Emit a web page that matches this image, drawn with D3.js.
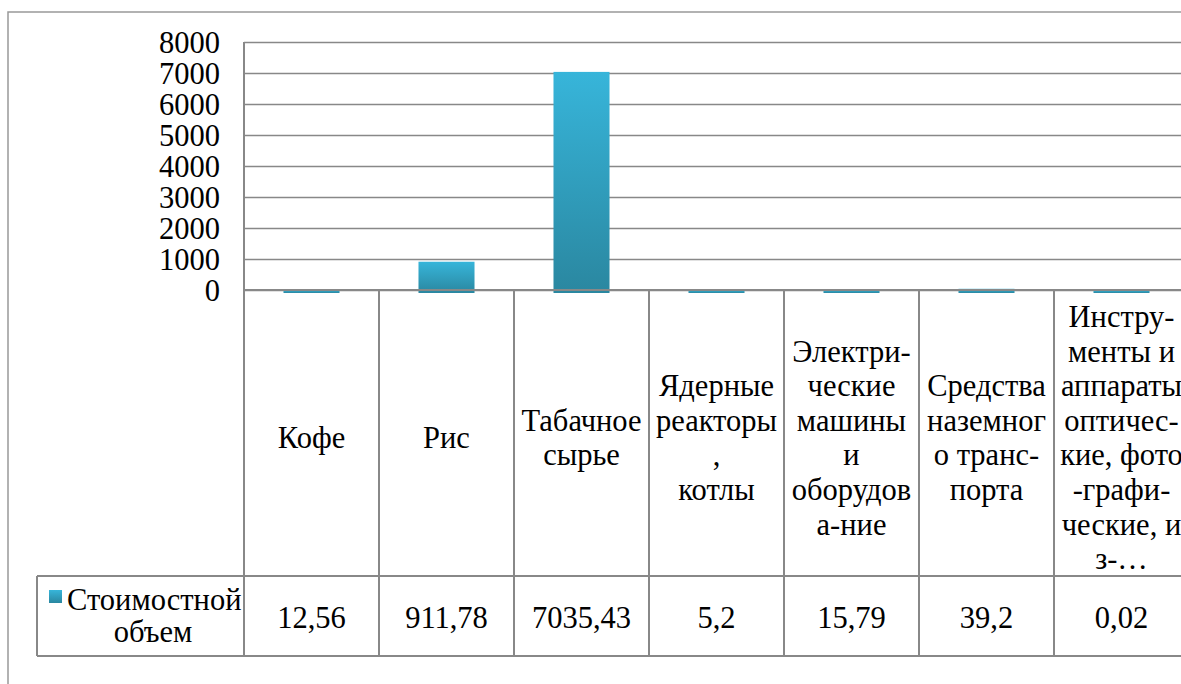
<!DOCTYPE html>
<html>
<head>
<meta charset="utf-8">
<script src="https://cdn.jsdelivr.net/npm/d3@7"></script>
</head>
<body style="margin:0">
<script>
// data
var categories = ["Кофе", "Рис", "Табачное сырье", "Ядерные реакторы, котлы",
  "Электрические машины и оборудование", "Средства наземного транспорта",
  "Инструменты и аппараты оптические, фотографические, из..."];
var labelLines = [
  ["Кофе"],
  ["Рис"],
  ["Табачное", "сырье"],
  ["Ядерные", "реакторы", ",", "котлы"],
  ["Электри-", "ческие", "машины", "и", "оборудов", "а-ние"],
  ["Средства", "наземног", "о транс-", "порта"],
  ["Инстру-", "менты и", "аппараты", "оптичес-", "кие, фото", "-графи-", "ческие, и", "з-…"]
];
var values = [12.56, 911.78, 7035.43, 5.2, 15.79, 39.2, 0.02];
var valueLabels = ["12,56", "911,78", "7035,43", "5,2", "15,79", "39,2", "0,02"];
var seriesName = ["Стоимостной", "объем"];
var yTicks = [0, 1000, 2000, 3000, 4000, 5000, 6000, 7000, 8000];

var W = 1181, H = 684;
var plotLeft = 244, plotTop = 42, plotBase = 290;
var step = 135;
var rowMid = 576, rowBottom = 656, legendLeft = 37;
var fontSize = 30.5, lineH = 34.6;
var gridColor = "#888";
var fontName = "Liberation Serif";

var svg = d3.select("body")
  .append("svg")
  .attr("width", W)
  .attr("height", H)
  .style("display", "block")
  .style("font-family", (d) => fontName);

var defs = svg.append("defs");
var grad = defs.append("linearGradient")
  .attr("id", "barGrad")
  .attr("x1", 0).attr("y1", 0).attr("x2", 0).attr("y2", 1);
grad.append("stop").attr("offset", "0%").attr("stop-color", "#37b5da");
grad.append("stop").attr("offset", "100%").attr("stop-color", "#2a87a0");

// outer frame
svg.append("path")
  .attr("d", "M8," + H + "V12H" + W)
  .attr("fill", "none")
  .attr("stroke", "#999")
  .attr("stroke-width", 1.5);

var x = d3.scaleBand()
  .domain(categories)
  .range([plotLeft, plotLeft + step * categories.length]);

var xBar = d3.scaleBand()
  .domain(categories)
  .range([plotLeft, plotLeft + step * categories.length])
  .paddingInner(0.585)
  .paddingOuter(0.2925);

var y = d3.scaleLinear()
  .domain([0, 8000])
  .range([plotBase, plotTop]);

// grid + y labels
var yAxis = d3.axisLeft(y)
  .tickValues(yTicks)
  .tickFormat(d3.format("d"))
  .tickSize(-(W - plotLeft))
  .tickPadding(24);

var ga = svg.append("g")
  .attr("transform", "translate(" + plotLeft + ",0)")
  .call(yAxis)
  .attr("font-family", null)
  .attr("font-size", null);
ga.select(".domain").remove();
ga.selectAll(".tick line")
  .attr("stroke", gridColor)
  .attr("stroke-width", 1.7);
ga.selectAll(".tick text")
  .style("font-family", (d) => fontName)
  .style("font-size", fontSize + "px")
  .attr("fill", "#000")
  .attr("dy", "0.36em");

// bars
svg.selectAll("rect.bar")
  .data(values)
  .enter()
  .append("rect")
  .attr("class", "bar")
  .attr("x", (d, i) => xBar(categories[i]))
  .attr("y", (d) => y(d))
  .attr("width", xBar.bandwidth())
  .attr("height", (d) => y(0) - y(d) + 3)
  .attr("fill", "url(#barGrad)");

// table lines
var tbl = svg.append("g")
  .attr("stroke", gridColor)
  .attr("stroke-width", 2)
  .attr("fill", "none");

// zero line sits over the bars
tbl.append("line")
  .attr("x1", plotLeft).attr("x2", W)
  .attr("y1", y(0)).attr("y2", y(0));

tbl.append("line")
  .attr("x1", plotLeft).attr("x2", plotLeft)
  .attr("y1", plotTop).attr("y2", rowBottom);

tbl.selectAll("line.col")
  .data(categories)
  .enter()
  .append("line")
  .attr("class", "col")
  .attr("x1", (d) => x(d) + step).attr("x2", (d) => x(d) + step)
  .attr("y1", plotBase).attr("y2", rowBottom);

tbl.append("line")
  .attr("x1", legendLeft).attr("x2", W)
  .attr("y1", rowMid).attr("y2", rowMid);
tbl.append("line")
  .attr("x1", legendLeft).attr("x2", W)
  .attr("y1", rowBottom).attr("y2", rowBottom);
tbl.append("line")
  .attr("x1", legendLeft).attr("x2", legendLeft)
  .attr("y1", rowMid).attr("y2", rowBottom);

// category labels
var lab = svg.selectAll("text.cat")
  .data(categories)
  .enter()
  .append("text")
  .attr("class", "cat")
  .attr("text-anchor", "middle")
  .style("font-family", (d) => fontName)
  .style("font-size", fontSize + "px")
  .attr("fill", "#000");

lab.each(function (d, i) {
  var lines = labelLines[i];
  var y0 = 448 - (lines.length - 1) * lineH / 2;
  d3.select(this).selectAll("tspan")
    .data(lines)
    .enter()
    .append("tspan")
    .attr("x", x(d) + step / 2)
    .attr("y", (t, j) => y0 + j * lineH)
    .text((t) => t);
});

// values row
svg.selectAll("text.val")
  .data(valueLabels)
  .enter()
  .append("text")
  .attr("class", "val")
  .attr("text-anchor", "middle")
  .style("font-family", (d) => fontName)
  .style("font-size", fontSize + "px")
  .attr("x", (d, i) => x(categories[i]) + step / 2)
  .attr("y", 628)
  .text((d) => d);

// legend cell
svg.append("rect")
  .attr("x", 49).attr("y", 590)
  .attr("width", 13).attr("height", 13)
  .attr("fill", "url(#barGrad)");

svg.append("text")
  .attr("x", 67).attr("y", 610)
  .style("font-family", (d) => fontName)
  .style("font-size", fontSize + "px")
  .text(seriesName[0]);
svg.append("text")
  .attr("x", 153).attr("y", 642)
  .attr("text-anchor", "middle")
  .style("font-family", (d) => fontName)
  .style("font-size", fontSize + "px")
  .text(seriesName[1]);
</script>
</body>
</html>
